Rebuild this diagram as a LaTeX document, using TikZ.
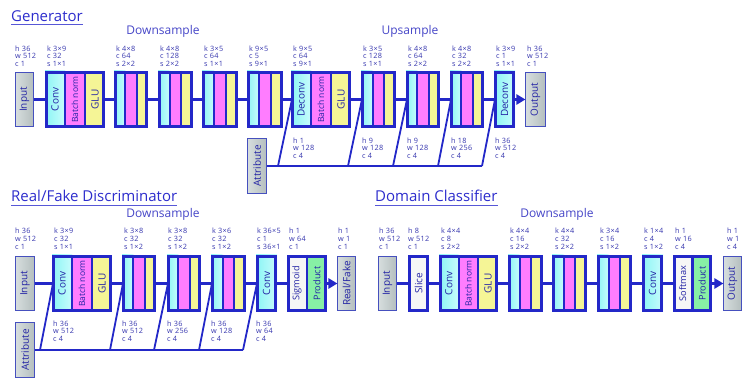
\documentclass[tikz,border=0pt]{standalone}
\usepackage{fontspec}
\setmainfont{Open Sans}
\usetikzlibrary{arrows.meta}
\definecolor{fr}{RGB}{35,40,200}
\definecolor{txt}{RGB}{35,35,165}
\definecolor{lblc}{RGB}{55,55,175}
\definecolor{hdc}{RGB}{70,70,200}
\definecolor{ttlc}{RGB}{45,45,205}
\definecolor{cyA}{RGB}{140,245,245}
\definecolor{cyB}{RGB}{200,252,252}
\definecolor{mgF}{RGB}{255,125,255}
\definecolor{ylF}{RGB}{245,245,150}
\definecolor{grF}{RGB}{135,240,165}
\definecolor{whF}{RGB}{246,246,246}
\definecolor{gyL}{RGB}{215,222,222}
\definecolor{gyR}{RGB}{180,190,190}
\definecolor{bxl}{RGB}{70,80,190}
\tikzset{
 blockframe/.style={draw=fr, line width=2.6pt, inner sep=0pt, outer sep=0pt, minimum height=54.4pt},
 grbox/.style={draw=bxl, line width=0.9pt, left color=gyL, right color=gyR, inner sep=0pt, outer sep=0pt, minimum height=55pt},
 cyanfill/.style={left color=cyA, right color=cyB},
 magfill/.style={fill=mgF},
 yelfill/.style={fill=ylF},
 divider/.style={draw=fr, line width=2.2pt},
 rot/.style={rotate=90, text=txt, inner sep=0pt, font=\fontsize{10}{12}\selectfont},
 rotsm/.style={rot, font=\fontsize{8.5}{10}\selectfont},
 lbltop/.style={text=lblc, align=left, inner sep=0pt, anchor=north west, font=\fontsize{7.3}{7.8}\selectfont\addfontfeature{LetterSpace=4}},
 conn/.style={draw=fr, line width=3.2pt},
 diag/.style={draw=fr, line width=1.8pt},
 attrline/.style={draw=fr, line width=2.8pt},
 hd/.style={text=hdc, font=\fontsize{12}{14}\selectfont, inner sep=0pt, anchor=base},
 ttl/.style={text=ttlc, font=\fontsize{15}{17}\selectfont, inner sep=0pt, anchor=base west},
 uline/.style={draw=ttlc!80, line width=0.8pt},
 arr/.style={conn, -{Triangle[length=9pt,width=10pt]}},
}
% three-stripe block: name, xl, xr, yc, t1, t2, t3
\newcommand\BlockIII[7]{%
 \pgfmathsetmacro\bxa{#2}\pgfmathsetmacro\bxb{#2+(#3-#2)/3}%
 \pgfmathsetmacro\bxc{#2+2*(#3-#2)/3}\pgfmathsetmacro\bxd{#3}%
 \pgfmathsetmacro\byt{#4-28.5}\pgfmathsetmacro\byb{#4+28.5}%
 \fill[cyanfill] (\bxa,\byt) rectangle (\bxb,\byb);
 \fill[magfill] (\bxb,\byt) rectangle (\bxc,\byb);
 \fill[yelfill] (\bxc,\byt) rectangle (\bxd,\byb);
 \draw[divider] (\bxb,\byt) -- (\bxb,\byb) (\bxc,\byt) -- (\bxc,\byb);
 \node[blockframe, minimum width={(#3-#2-2.6)*1pt}] (#1) at ({(#2+#3)/2},#4) {};
 \node[rot] (#1-a) at ({(\bxa+\bxb)/2},#4) {#5};
 \node[rotsm] (#1-b) at ({(\bxb+\bxc)/2},#4) {#6};
 \node[rot] (#1-c) at ({(\bxc+\bxd)/2},#4) {#7};
}
% single block: fill style, name, xl, xr, yc, text
\newcommand\BlockI[6]{%
 \pgfmathsetmacro\byt{#5-28.5}\pgfmathsetmacro\byb{#5+28.5}%
 \fill[#1] (#3,\byt) rectangle (#4,\byb);
 \node[blockframe, minimum width={(#4-#3-2.6)*1pt}] (#2) at ({(#3+#4)/2},#5) {};
 \node[rot] (#2-a) at ({(#3+#4)/2},#5) {#6};
}
% two-stripe block: name, xl, xr, yc, t1 (white), t2 (green)
\newcommand\BlockII[6]{%
 \pgfmathsetmacro\bxm{(#2+#3)/2}%
 \pgfmathsetmacro\byt{#4-28.5}\pgfmathsetmacro\byb{#4+28.5}%
 \fill[whF] (#2,\byt) rectangle (\bxm,\byb);
 \fill[grF] (\bxm,\byt) rectangle (#3,\byb);
 \draw[divider] (\bxm,\byt) -- (\bxm,\byb);
 \node[blockframe, minimum width={(#3-#2-2.6)*1pt}] (#1) at ({(#2+#3)/2},#4) {};
 \node[rotsm, font=\fontsize{9.2}{10}\selectfont] (#1-a) at ({(#2+\bxm)/2},#4) {#5};
 \node[rotsm, font=\fontsize{9.2}{10}\selectfont] (#1-b) at ({(\bxm+#3)/2},#4) {#6};
}
% gray box: name, xl, xr, yc, text, height
\newcommand\GBox[6]{%
 \node[grbox, minimum width={(#3-#2-0.9)*1pt}, minimum height={(#6-0.9)*1pt}] (#1) at ({(#2+#3)/2},#4) {};
 \node[rot] (#1-a) at ({(#2+#3)/2},#4) {#5};
}
\begin{document}
\begin{tikzpicture}[x=1pt,y=-1pt]
\useasboundingbox (0,0) rectangle (747,379);
\fill[white] (0,0) rectangle (747,379);

% ================= Generator =================
\node[ttl] (tgen) at (11,22) {Generator};
\draw[uline] ([yshift=-2.2pt]tgen.base west) -- ([yshift=-2.2pt]tgen.base east);
\node[hd] (gdown) at (163,35) {Downsample};
\node[hd] (gup) at (410,35) {Upsample};

% attribute path (behind blocks)
\GBox{gattr}{247}{267}{166}{Attribute}{56}
\coordinate (ga1) at (278,166);
\coordinate (ga2) at (348,166);
\coordinate (ga3) at (393,166);
\coordinate (ga4) at (438,166);
\coordinate (ga5) at (482,166);
\draw[attrline] (gattr.east) -- (ga5);
\draw[diag] (ga1) -- (292,99.5);
\draw[diag] (ga2) -- (362,99.5);
\draw[diag] (ga3) -- (407,99.5);
\draw[diag] (ga4) -- (451,99.5);
\draw[diag] (ga5) -- (495,99.5);

\GBox{gin}{15}{34}{99.5}{Input}{55}
\BlockIII{gb1}{45}{105}{99.5}{Conv}{Batch norm}{GLU}
\BlockIII{gb2}{114}{148}{99.5}{}{}{}
\BlockIII{gb3}{158}{193}{99.5}{}{}{}
\BlockIII{gb4}{202}{238}{99.5}{}{}{}
\BlockIII{gb5}{247}{283}{99.5}{}{}{}
\BlockIII{gd1}{291}{351}{99.5}{Deconv}{Batch norm}{GLU}
\BlockIII{gu1}{361}{396}{99.5}{}{}{}
\BlockIII{gu2}{406}{440}{99.5}{}{}{}
\BlockIII{gu3}{450}{484}{99.5}{}{}{}
\BlockI{cyanfill}{gd2}{494}{515}{99.5}{Deconv}
\GBox{gout}{525}{546}{99.5}{Output}{55}

\draw[conn] (gin.east) -- (gb1.west);
\draw[conn] (gb1.east) -- (gb2.west);
\draw[conn] (gb2.east) -- (gb3.west);
\draw[conn] (gb3.east) -- (gb4.west);
\draw[conn] (gb4.east) -- (gb5.west);
\draw[conn] (gb5.east) -- (gd1.west);
\draw[conn] (gd1.east) -- (gu1.west);
\draw[conn] (gu1.east) -- (gu2.west);
\draw[conn] (gu2.east) -- (gu3.west);
\draw[conn] (gu3.east) -- (gd2.west);
\draw[arr] (gd2.east) -- (gout.west);

\node[lbltop] (lg0) at (15,45.4) {h 36\\w 512\\c 1};
\node[lbltop] (lg1) at (47,45.4) {k 3×9\\c 32\\s 1×1};
\node[lbltop] (lg2) at (116,45.4) {k 4×8\\c 64\\s 2×2};
\node[lbltop] (lg3) at (160,45.4) {k 4×8\\c 128\\s 2×2};
\node[lbltop] (lg4) at (204,45.4) {k 3×5\\c 64\\s 1×1};
\node[lbltop] (lg5) at (249,45.4) {k 9×5\\c 5\\s 9×1};
\node[lbltop] (lg6) at (293,45.4) {k 9×5\\c 64\\s 9×1};
\node[lbltop] (lg7) at (363,45.4) {k 3×5\\c 128\\s 1×1};
\node[lbltop] (lg8) at (408,45.4) {k 4×8\\c 64\\s 2×2};
\node[lbltop] (lg9) at (452,45.4) {k 4×8\\c 32\\s 2×2};
\node[lbltop] (lg10) at (496,45.4) {k 3×9\\c 1\\s 1×1};
\node[lbltop] (lg11) at (527,45.4) {h 36\\w 512\\c 1};

\node[lbltop] (lgb1) at (293,137.4) {h 1\\w 128\\c 4};
\node[lbltop] (lgb2) at (362,137.4) {h 9\\w 128\\c 4};
\node[lbltop] (lgb3) at (407,137.4) {h 9\\w 128\\c 4};
\node[lbltop] (lgb4) at (451,137.4) {h 18\\w 256\\c 4};
\node[lbltop] (lgb5) at (495,137.4) {h 36\\w 512\\c 4};

% ================= Real/Fake Discriminator =================
\node[ttl] (tdis) at (11,202) {Real/Fake Discriminator};
\draw[uline] ([yshift=-3pt]tdis.base west) -- ([yshift=-3pt]tdis.base east);
\node[hd] (ddown) at (163,218) {Downsample};

\GBox{dattr}{15}{35}{350}{Attribute}{56}
\coordinate (da1) at (40,350);
\coordinate (da2) at (110,350);
\coordinate (da3) at (154,350);
\coordinate (da4) at (199,350);
\coordinate (da5) at (243,350);
\draw[attrline] (dattr.east) -- (da5);
\draw[diag] (da1) -- (53,283.5);
\draw[diag] (da2) -- (123,283.5);
\draw[diag] (da3) -- (168,283.5);
\draw[diag] (da4) -- (212,283.5);
\draw[diag] (da5) -- (257,283.5);

\GBox{din}{15}{35}{283.5}{Input}{55}
\BlockIII{db1}{52}{112}{283.5}{Conv}{Batch norm}{GLU}
\BlockIII{db2}{122}{156}{283.5}{}{}{}
\BlockIII{db3}{167}{201}{283.5}{}{}{}
\BlockIII{db4}{211}{246}{283.5}{}{}{}
\BlockI{cyanfill}{dconv}{256}{277}{283.5}{Conv}
\BlockII{dsp}{287}{327}{283.5}{Sigmoid}{Product}
\GBox{drf}{337}{356}{283.5}{Real/Fake}{55}

\draw[conn] (din.east) -- (db1.west);
\draw[conn] (db1.east) -- (db2.west);
\draw[conn] (db2.east) -- (db3.west);
\draw[conn] (db3.east) -- (db4.west);
\draw[conn] (db4.east) -- (dconv.west);
\draw[conn] (dconv.east) -- (dsp.west);
\draw[arr] (dsp.east) -- (drf.west);

\node[lbltop] (ld0) at (15,228.2) {h 36\\w 512\\c 1};
\node[lbltop] (ld1) at (54,228.2) {k 3×9\\c 32\\s 1×1};
\node[lbltop] (ld2) at (124,228.2) {k 3×8\\c 32\\s 1×2};
\node[lbltop] (ld3) at (168,228.2) {k 3×8\\c 32\\s 1×2};
\node[lbltop] (ld4) at (212,228.2) {k 3×6\\c 32\\s 1×2};
\node[lbltop] (ld5) at (257,228.2) {k 36×5\\c 1\\s 36×1};
\node[lbltop] (ld6) at (289,228.2) {h 1\\w 64\\c 1};
\node[lbltop] (ld7) at (338,228.2) {h 1\\w 1\\c 1};

\node[lbltop] (ldb1) at (53,320.4) {h 36\\w 512\\c 4};
\node[lbltop] (ldb2) at (122,320.4) {h 36\\w 512\\c 4};
\node[lbltop] (ldb3) at (167,320.4) {h 36\\w 256\\c 4};
\node[lbltop] (ldb4) at (211,320.4) {h 36\\w 128\\c 4};
\node[lbltop] (ldb5) at (256,320.4) {h 36\\w 64\\c 4};

% ================= Domain Classifier =================
\node[ttl] (tdom) at (375,202) {Domain Classifier};
\draw[uline] ([yshift=-3pt]tdom.base west) -- ([yshift=-3pt]tdom.base east);
\node[hd] (cdown) at (557,218) {Downsample};

\GBox{cin}{378}{397}{283.5}{Input}{55}
\BlockI{fill=whF}{cslice}{408}{429}{283.5}{Slice}
\BlockIII{cb1}{439}{498}{283.5}{Conv}{Batch norm}{GLU}
\BlockIII{cb2}{508}{543}{283.5}{}{}{}
\BlockIII{cb3}{552}{587}{283.5}{}{}{}
\BlockIII{cb4}{597}{632}{283.5}{}{}{}
\BlockI{cyanfill}{cconv}{642}{663}{283.5}{Conv}
\BlockII{csp}{673}{712}{283.5}{Softmax}{Product}
\GBox{cout}{723}{742}{283.5}{Output}{55}

\draw[conn] (cin.east) -- (cslice.west);
\draw[conn] (cslice.east) -- (cb1.west);
\draw[conn] (cb1.east) -- (cb2.west);
\draw[conn] (cb2.east) -- (cb3.west);
\draw[conn] (cb3.east) -- (cb4.west);
\draw[conn] (cb4.east) -- (cconv.west);
\draw[conn] (cconv.east) -- (csp.west);
\draw[arr] (csp.east) -- (cout.west);

\node[lbltop] (lc0) at (379,228.2) {h 36\\w 512\\c 1};
\node[lbltop] (lc1) at (408,228.2) {h 8\\w 512\\c 1};
\node[lbltop] (lc2) at (441,228.2) {k 4×4\\c 8\\s 2×2};
\node[lbltop] (lc3) at (510,228.2) {k 4×4\\c 16\\s 2×2};
\node[lbltop] (lc4) at (555,228.2) {k 4×4\\c 32\\s 2×2};
\node[lbltop] (lc5) at (600,228.2) {k 3×4\\c 16\\s 1×2};
\node[lbltop] (lc6) at (644,228.2) {k 1×4\\c 4\\s 1×2};
\node[lbltop] (lc7) at (675,228.2) {h 1\\w 16\\c 4};
\node[lbltop] (lc8) at (727,228.2) {h 1\\w 1\\c 4};
\end{tikzpicture}
\end{document}
